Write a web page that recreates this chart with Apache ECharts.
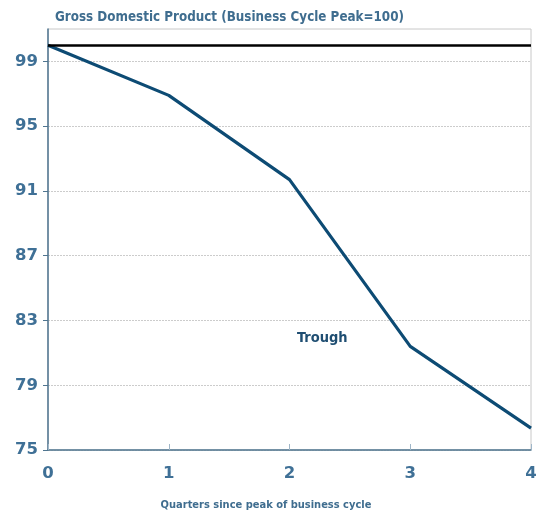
<!DOCTYPE html>
<html><head><meta charset="utf-8">
<script src="https://cdn.jsdelivr.net/npm/echarts@6/dist/echarts.min.js"></script>
<style>html,body{margin:0;padding:0;background:#fff}#c{width:543px;height:516px}</style>
</head><body><div id="c"></div>
<script>
var quarters = [0, 1, 2, 3, 4];
var gdp = [100, 96.9, 91.7, 81.4, 76.35];
var yTicks = [75, 79, 83, 87, 91, 95, 99];
var peakLevel = 100;

var chart = echarts.init(document.getElementById('c'));
var labelColor = '#3f7096';
chart.setOption({
  animation: false,
  title: {
    text: 'Gross Domestic Product (Business Cycle Peak=100)',
    left: 55, top: 11, padding: 0,
    textStyle: {fontFamily: 'DejaVu Sans Condensed', fontWeight: 'bold', fontSize: 13.3, color: '#3f6d8f'}
  },
  grid: {left: 48, right: 12, top: 29, bottom: 65, show: true, borderColor: '#c8c8c8', borderWidth: 1},
  xAxis: {
    type: 'value', min: 0, max: 4, interval: 1,
    name: 'Quarters since peak of business cycle', nameLocation: 'middle', nameGap: 50,
    nameTextStyle: {fontFamily: 'DejaVu Sans Condensed', fontWeight: 'bold', fontSize: 11, color: '#3f6d8f', padding: [0, 47, 0, 0]},
    axisLine: {show: true, lineStyle: {color: '#4f7590', width: 1.5}},
    axisTick: {show: true, inside: true, length: 6, lineStyle: {color: '#9fb6c8', width: 1}},
    axisLabel: {margin: 15, fontFamily: 'DejaVu Sans', fontWeight: 'bold', fontSize: 16.5, color: labelColor},
    splitLine: {show: false}
  },
  yAxis: {
    type: 'value', min: 75, max: 101, interval: 4,
    axisLine: {show: true, lineStyle: {color: '#4f7590', width: 1.5}},
    axisTick: {show: true, length: 5, customValues: yTicks, lineStyle: {color: '#4f7590'}},
    axisLabel: {margin: 10, customValues: yTicks, fontFamily: 'DejaVu Sans', fontWeight: 'bold', fontSize: 16.5, color: labelColor},
    splitLine: {show: true, lineStyle: {color: '#cccccc', type: [2, 1], width: 1}}
  },
  graphic: [{
    type: 'text', left: 297, top: 331,
    style: {text: 'Trough', fontFamily: 'DejaVu Sans Condensed', fontWeight: 'bold', fontSize: 14.5, fill: '#1f4e72'}
  }],
  series: [{
    type: 'line',
    data: quarters.map(function (q, i) { return [q, gdp[i]]; }),
    symbol: 'none',
    lineStyle: {color: '#0d4b74', width: 3.2},
    markLine: {
      silent: true, symbol: 'none', label: {show: false},
      lineStyle: {color: '#000', width: 2.5, type: 'solid'},
      data: [{yAxis: peakLevel}]
    }
  }]
});
</script></body></html>
